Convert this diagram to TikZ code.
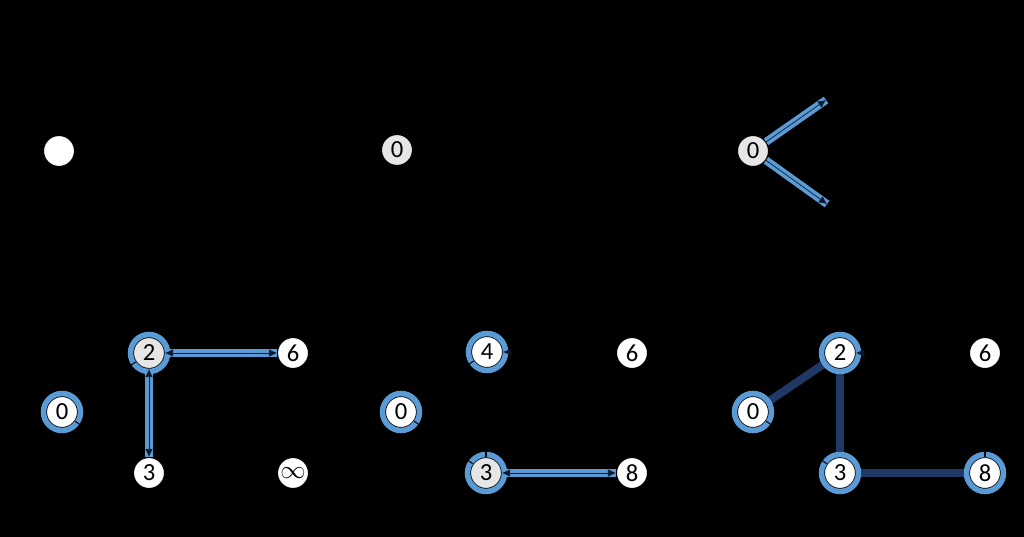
\documentclass[tikz,border=0pt]{standalone}
\usepackage{fontspec}
\setmainfont{Carlito}
\usepackage{tikz}
\usetikzlibrary{arrows.meta}
\definecolor{ringBlue}{HTML}{5B9BD5}
\definecolor{visitGray}{HTML}{E7E6E6}
\definecolor{pathNavy}{HTML}{1F3864}
\definecolor{edgeDark}{HTML}{0C1A30}

\begin{document}
\begin{tikzpicture}[
  every node/.style={font=\fontsize{14}{15}\selectfont, align=center},
  vertex/.style={circle,draw=black,line width=0.6pt,fill=white,minimum size=0.62cm,inner sep=0pt},
  current/.style={vertex,fill=visitGray},
  ring/.style={draw=ringBlue,line width=0.11cm},
  band/.style={draw=ringBlue,line width=0.16cm},
  pathband/.style={draw=pathNavy,line width=0.16cm},
  tipline/.style={-{Latex[length=1.6mm,width=1.5mm]},line width=0.4pt,color=edgeDark},
  bothline/.style={{Latex[length=1.6mm,width=1.5mm]}-{Latex[length=1.6mm,width=1.5mm]},line width=0.4pt,color=edgeDark},
  seam/.style={line width=0.6pt,color=black}
]
% fondo y marco
\fill[black] (0,0) rectangle (20.48,-10.74);
\useasboundingbox (0,0) rectangle (20.48,-10.74);

% Fila superior
\node[vertex] (p1) at (1.18,-3.02) {};
\node[current] (p2) at (7.94,-3.00) {0};
\node[current] (p3) at (15.06,-3.02) {0};
\coordinate (t1) at (16.52,-2.00);
\coordinate (t2) at (16.54,-4.08);
\draw[band] (p3) -- (t1);
\draw[band] (p3) -- (t2);
\draw[tipline] (p3) -- (t1);
\draw[tipline] (p3) -- (t2);

% Paso A
\node[vertex] (a0) at (1.24,-8.24) {0};
\node[current] (a2) at (2.98,-7.06) {2};
\node[vertex] (a6) at (5.86,-7.06) {6};
\node[vertex] (a3) at (2.98,-9.46) {3};
\node[vertex] (ainf) at (5.86,-9.46) {$\infty$};
\draw[band] (a2) -- (a6);
\draw[band] (a2) -- (a3);
\draw[ring] (a0) circle (0.37cm);
\draw[ring] (a2) circle (0.37cm);
\draw[seam] (a0.-35) -- ++(-35:0.16);
\draw[seam] (a2.214) -- ++(214:0.16);
\draw[bothline] (a2) -- (a6);
\draw[bothline] (a2) -- (a3);

% Paso B
\node[vertex] (b0) at (8.02,-8.24) {0};
\node[vertex] (b4) at (9.74,-7.04) {4};
\node[vertex] (b6) at (12.64,-7.06) {6};
\node[current] (b3) at (9.72,-9.46) {3};
\node[vertex] (b8) at (12.64,-9.46) {8};
\draw[band] (b3) -- (b8);
\draw[ring] (b0) circle (0.37cm);
\draw[ring] (b4) circle (0.37cm);
\draw[ring] (b3) circle (0.37cm);
\draw[seam] (b0.-35) -- ++(-35:0.16);
\draw[seam] (b4.214) -- ++(214:0.16);
\draw[seam] (b3.90) -- ++(90:0.16);
\draw[seam] (b3.145) -- ++(145:0.16);
\draw[tipline] (b4.east) ++(0.17,0) -- (b4.east);
\draw[bothline] (b3) -- (b8);

% Paso C
\node[vertex] (c0) at (15.06,-8.24) {0};
\node[vertex] (c2) at (16.80,-7.06) {2};
\node[vertex] (c6) at (19.70,-7.06) {6};
\node[vertex] (c3) at (16.80,-9.46) {3};
\node[vertex] (c8) at (19.70,-9.46) {8};
\draw[pathband] (c0) -- (c2);
\draw[pathband] (c2) -- (c3);
\draw[pathband] (c3) -- (c8);
\draw[ring] (c0) circle (0.37cm);
\draw[ring] (c2) circle (0.37cm);
\draw[ring] (c3) circle (0.37cm);
\draw[ring] (c8) circle (0.37cm);
\draw[seam] (c0.-35) -- ++(-35:0.16);
\draw[seam] (c3.145) -- ++(145:0.16);
\draw[seam] (c8.90) -- ++(90:0.16);
\draw[tipline] (c2.east) ++(0.17,0) -- (c2.east);
\end{tikzpicture}
\end{document}
